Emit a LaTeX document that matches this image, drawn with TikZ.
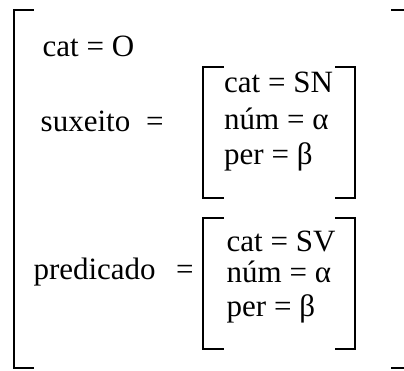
\documentclass[tikz,border=0pt]{standalone}
\usepackage{fontspec}
\setmainfont{Liberation Serif}
\begin{document}
\begin{tikzpicture}[x=1pt,y=-1pt,
  txt/.style={anchor=base west,inner sep=0pt,font=\fontsize{31}{37}\selectfont},
  brk/.style={line width=1.6pt,line cap=rect}]
\useasboundingbox (0,0) rectangle (404,370);
% outer brackets
\draw[brk] (33,10) -- (14,10) -- (14,368) -- (33,368);
\draw[brk] (392,10) -- (404,10);
\draw[brk] (392,368) -- (404,368);
% inner bracket 1
\draw[brk] (223,67) -- (203,67) -- (203,198) -- (223,198);
\draw[brk] (336,67) -- (355,67) -- (355,198) -- (336,198);
% inner bracket 2
\draw[brk] (223,218) -- (203,218) -- (203,349) -- (223,349);
\draw[brk] (336,218) -- (355,218) -- (355,349) -- (336,349);
% texts
\node[txt] (cat0) at (42.5,56.5) {cat = O};
\node[txt] (sux) at (40.5,131) {suxeito};
\node[txt] (eq1) at (146,131) {=};
\node[txt] (pred) at (33.3,279) {predicado};
\node[txt] (eq2) at (176,279) {=};
\node[txt] (c1) at (224,92.7) {cat = SN};
\node[txt] (n1) at (224,129.3) {núm = α};
\node[txt] (p1) at (224,164.3) {per = β};
\node[txt] (c2) at (226.5,251.7) {cat = SV};
\node[txt] (n2) at (226.5,282.3) {núm = α};
\node[txt] (p2) at (226.5,316.7) {per = β};
\end{tikzpicture}
\end{document}
